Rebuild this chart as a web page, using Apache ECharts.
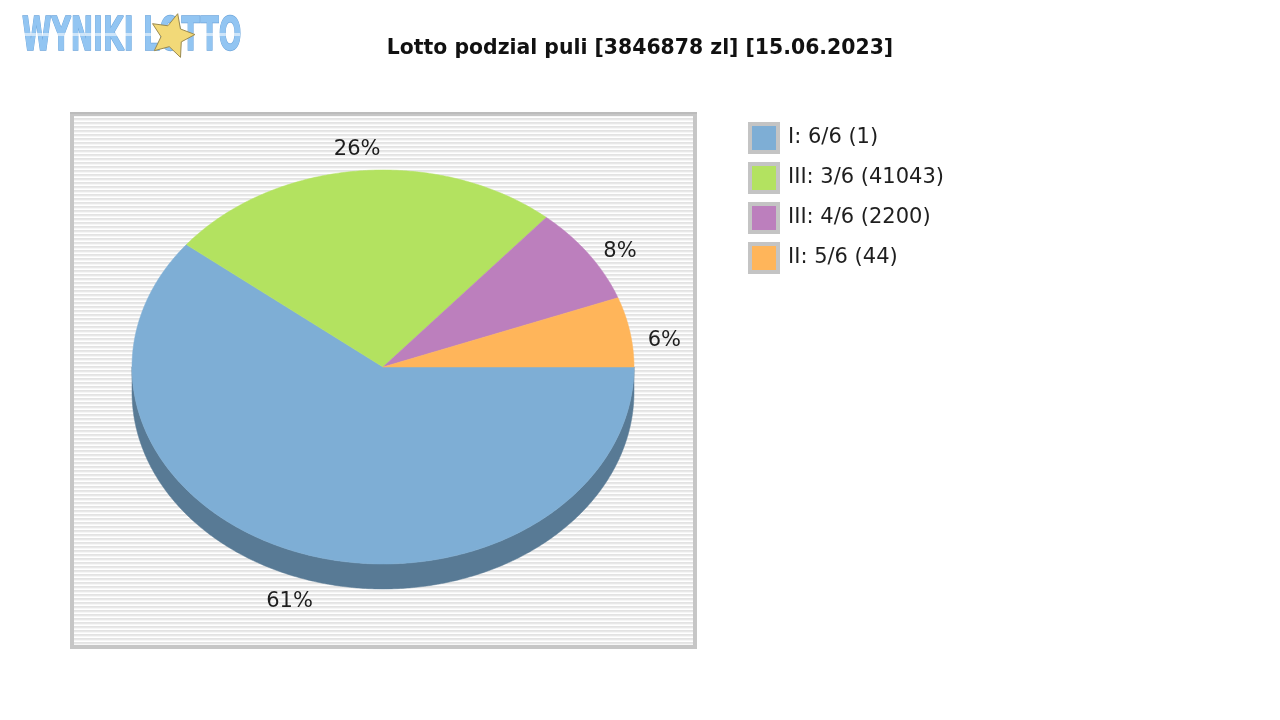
<!DOCTYPE html>
<html>
<head>
<meta charset="utf-8">
<script src="https://cdn.jsdelivr.net/npm/echarts@6/dist/echarts.min.js"></script>
<style>
html,body{margin:0;padding:0;background:#fff;}
#main{width:1280px;height:720px;}
</style>
</head>
<body>
<div id="main"></div>
<script>
// ---- data ----
const categories = ['I: 6/6 (1)', 'III: 3/6 (41043)', 'III: 4/6 (2200)', 'II: 5/6 (44)'];
const values = [2333846, 985032, 308000, 220000];
const sliceColors = ['#7eaed5', '#b3e260', '#bc7fbd', '#ffb55a'];
const titleText = 'Lotto podzial puli [3846878 zl] [15.06.2023]';

// ---- layout ----
const CX = 383, CY = 367, RA = 251, RB = 197, DEPTH = 25;
const total = values.reduce((s, v) => s + v, 0);

function darker(hex, f) {
  const n = parseInt(hex.slice(1), 16);
  const r = Math.round(((n >> 16) & 255) * f), g = Math.round(((n >> 8) & 255) * f), b = Math.round((n & 255) * f);
  return 'rgb(' + r + ',' + g + ',' + b + ')';
}
function pt(t, dy) { return [CX + RA * Math.cos(t), CY - RB * Math.sin(t) + (dy || 0)]; }

function renderSlice(params, api) {
  const i = params.seriesIndex;
  let start = 0;
  for (let k = 0; k < i; k++) start += values[k];
  const v = api.value(0);
  const t1 = -start / total * Math.PI * 2;
  const t2 = -(start + v) / total * Math.PI * 2;
  const color = sliceColors[i];
  const children = [];
  const n = Math.max(4, Math.ceil(Math.abs(t1 - t2) / (Math.PI / 360)));
  const top = [[CX, CY]];
  for (let k = 0; k <= n; k++) top.push(pt(t1 + (t2 - t1) * k / n));
  children.push({ type: 'polygon', z2: 10, shape: { points: top }, style: { fill: color, stroke: color, lineWidth: 0.5 } });
  const lo = Math.max(t2, -Math.PI), hi = Math.min(t1, 0);
  if (lo < hi) {
    const m = Math.ceil((hi - lo) / (Math.PI / 360));
    const side = [];
    for (let k = 0; k <= m; k++) side.push(pt(hi + (lo - hi) * k / m));
    for (let k = m; k >= 0; k--) side.push(pt(hi + (lo - hi) * k / m, DEPTH));
    const sc = darker(color, 0.7);
    children.push({ type: 'polygon', z2: 1, shape: { points: side }, style: { fill: sc, stroke: sc, lineWidth: 0.5 } });
  }
  const mid = (t1 + t2) / 2, c = Math.cos(mid), s = Math.sin(mid);
  const lx = CX + (RA + 18) * c;
  const ly = CY - (RB + 22) * s + (s < 0 ? DEPTH + 3 : 13 * Math.abs(c));
  children.push({
    type: 'text', z2: 20, x: lx - (Math.abs(c) < 0.4 && s < 0 ? 5 : 0), y: ly - (s > 0 && Math.abs(c) < 0.4 ? 1 : 0),
    style: {
      text: Math.round(v / total * 100) + '%',
      fill: '#1e1e1e', font: '21px "DejaVu Sans"',
      align: Math.abs(c) < 0.4 ? 'center' : (c > 0 ? 'left' : 'right'),
      verticalAlign: 'middle'
    }
  });
  return { type: 'group', children: children };
}

// stripe pattern
const pc = document.createElement('canvas');
pc.width = 8; pc.height = 4;
const pctx = pc.getContext('2d');
const rows = ['#f6f6f6', '#ffffff', '#e3e3e3', '#e8e8e8'];
rows.forEach((c, k) => { pctx.fillStyle = c; pctx.fillRect(0, k, 8, 1); });

function starPoints(cx, cy, R, r) {
  const p = [];
  for (let k = 0; k < 10; k++) {
    const a = -Math.PI / 2 + k * Math.PI / 5 + 0.25;
    const rr = k % 2 ? r : R;
    p.push([cx + rr * Math.cos(a), cy + rr * Math.sin(a)]);
  }
  return p;
}

const chart = echarts.init(document.getElementById('main'), null, { renderer: 'canvas' });
chart.setOption({
  animation: false,
  backgroundColor: '#ffffff',
  title: {
    text: titleText, left: 'center', top: 34,
    textStyle: { fontFamily: 'DejaVu Sans', fontWeight: 'bold', fontSize: 20.4, color: '#111111' }
  },
  legend: {
    orient: 'vertical', left: 748, top: 122, padding: 0,
    itemWidth: 28, itemHeight: 28, itemGap: 8, icon: 'rect',
    itemStyle: { borderColor: '#c4c4c4', borderWidth: 4 },
    textStyle: { fontFamily: 'DejaVu Sans', fontSize: 21, color: '#1e1e1e', padding: [3, 0, 0, 5] },
    selectedMode: false,
    data: categories
  },
  graphic: [
    { type: 'rect', z: -10, shape: { x: 72, y: 114, width: 623, height: 533 },
      style: { fill: { image: pc, repeat: 'repeat' }, stroke: '#c6c6c6', lineWidth: 4 } },
    { type: 'line', z: -9, shape: { x1: 70, y1: 113, x2: 697, y2: 113 }, style: { stroke: '#bcbcbc', lineWidth: 2 } },
    { type: 'group', z: 5, children: [
      { type: 'text', x: 22, y: 15, scaleX: 0.58, style: {
          text: 'WYNIKI LOTTO', font: 'bold 46px "DejaVu Sans"', verticalAlign: 'top',
          fill: '#92c5f2', stroke: '#6fa7dc', lineWidth: 1.5 } },
      { type: 'rect', shape: { x: 22, y: 33, width: 218, height: 3 }, style: { fill: 'rgba(255,255,255,0.55)' } },
      { type: 'polygon', shape: { points: starPoints(172, 36, 23, 11) },
        style: { fill: '#f2d978', stroke: '#9a8a50', lineWidth: 1 } }
    ] }
  ],
  series: categories.map((name, i) => ({
    type: 'custom', name: name, coordinateSystem: 'none',
    itemStyle: { color: sliceColors[i] },
    data: [values[i]],
    renderItem: renderSlice
  }))
});
</script>
</body>
</html>
